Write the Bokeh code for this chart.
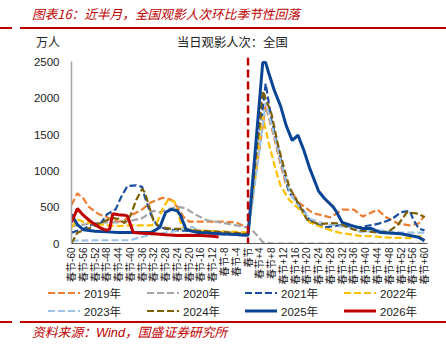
from bokeh.plotting import figure
from bokeh.models import Range1d, FixedTicker, Span, Div
from bokeh.layouts import column
from bokeh.embed import file_html
from bokeh.resources import INLINE

# ---------------- data (days relative to Spring Festival, 万人) ----------------
d19 = [-60, -58, -56, -54, -51, -47, -44, -42, -40, -36, -33, -29, -26, -24, -22, -20, -16, -12, -8, -4, -2, 0,
       6, 9, 11, 13, 16, 17, 22, 28, 32, 36, 39, 44, 47, 51, 55, 58, 60]
v19 = [530, 690, 620, 500, 410, 345, 300, 320, 380, 470, 565, 630, 600, 500, 370, 300, 300, 300, 300, 290, 250, 210,
       1900, 1440, 1100, 800, 640, 570, 420, 360, 465, 465, 370, 465, 360, 275, 250, 275, 385]

d20 = [-60, -56, -52, -48, -44, -40, -36, -32, -30, -28, -24, -21, -18, -14, -8, -4, 0, 2, 5, 8, 60]
v20 = [240, 260, 280, 290, 290, 310, 350, 450, 430, 460, 510, 480, 400, 320, 280, 250, 220, 160, 20, 0, 0]

d21 = [-60, -56, -53, -50, -48, -45, -43, -41, -38, -36, -35, -33, -31, -28, -24, -20, -16, -12, -8, -4, 0,
       6, 8, 10, 12, 14, 16, 18, 21, 26, 31, 37, 43, 46, 49, 52, 55, 56, 58, 60]
v21 = [150, 200, 260, 280, 400, 470, 650, 790, 800, 780, 630, 400, 250, 200, 180, 175, 170, 165, 160, 150, 140,
       2200, 1700, 1350, 1000, 700, 600, 500, 320, 220, 250, 220, 260, 290, 340, 430, 450, 345, 205, 180]

d22 = [-60, -58, -56, -52, -48, -44, -40, -36, -33, -31, -29, -27, -25, -24, -23, -22, -18, -12, -8, -4, 0,
       5, 7, 9, 11, 14, 18, 21, 26, 31, 38, 42, 48, 55, 58, 60]
v22 = [220, 330, 300, 270, 250, 240, 250, 250, 250, 280, 480, 610, 580, 450, 300, 210, 180, 170, 160, 160, 150,
       1750, 1390, 1075, 800, 600, 450, 290, 210, 150, 105, 100, 80, 75, 95, 100]

d23 = [-60, -56, -52, -48, -44, -40, -38, -34, -30, -26, -22, -19, -16, -12, -8, -4, 0,
       6, 9, 11, 13, 15, 18, 21, 26, 31, 35, 38, 45, 52, 60]
v23 = [40, 40, 45, 45, 45, 45, 70, 110, 140, 160, 200, 230, 150, 130, 120, 115, 110,
       1940, 1480, 1150, 850, 650, 470, 340, 270, 240, 220, 160, 180, 150, 150]

d24 = [-60, -58, -54, -50, -46, -44, -42, -40, -38, -36, -35, -34, -32, -30, -26, -22, -18, -14, -10, -6, -2, 0,
       5, 8, 10, 12, 14, 17, 20, 24, 28, 31, 36, 40, 44, 48, 51, 54, 58, 60]
v24 = [0, 150, 210, 290, 350, 340, 280, 380, 600, 750, 700, 560, 300, 230, 200, 200, 180, 170, 160, 150, 140, 130,
       2100, 1780, 1390, 1075, 780, 560, 330, 265, 280, 275, 190, 170, 150, 170, 260, 430, 410, 360]

d25 = [-60, -58, -56, -52, -48, -44, -40, -36, -33, -30, -28, -26, -24, -23, -21, -17, -12, -8, -4, -1, 0,
       5, 6, 7, 9, 11, 13, 15, 17, 19, 21, 24, 26, 29, 30, 32, 35, 39, 42, 45, 52, 58, 60]
v25 = [400, 260, 190, 170, 160, 150, 150, 150, 150, 220, 430, 470, 450, 390, 190, 150, 140, 130, 125, 115, 115,
       2490, 2490, 2350, 2100, 1900, 1620, 1420, 1490, 1280, 1030, 720, 620, 500, 440, 290, 250, 205, 205, 150, 135, 85, 40]

d26 = [-60, -58, -56, -54, -52, -50, -48, -47, -46, -44, -42, -41, -39, -36, -32, -28, -24, -20, -16, -12, -10]
v26 = [290, 480, 390, 320, 260, 210, 180, 200, 410, 395, 390, 380, 150, 140, 135, 120, 110, 115, 110, 100, 90]

years = ["2019年", "2020年", "2021年", "2022年", "2023年", "2024年", "2025年", "2026年"]
y_ticks = [0, 500, 1000, 1500, 2000, 2500]
x_ticks = [-60, -56, -52, -48, -44, -40, -36, -32, -28, -24, -20, -16, -12, -8, -4, 0,
           4, 8, 12, 16, 20, 24, 28, 32, 36, 40, 44, 48, 52, 56, 60]
x_tick_labels = ["春节-60", "春节-56", "春节-52", "春节-48", "春节-44", "春节-40", "春节-36", "春节-32",
                 "春节-28", "春节-24", "春节-20", "春节-16", "春节-12", "春节-8", "春节-4", "春节",
                 "春节+4", "春节+8", "春节+12", "春节+16", "春节+20", "春节+24", "春节+28", "春节+32",
                 "春节+36", "春节+40", "春节+44", "春节+48", "春节+52", "春节+56", "春节+60"]

title_text = "图表16：近半月，全国观影人次环比季节性回落"
unit_text = "万人"
subtitle_text = "当日观影人次：全国"
source_text = "资料来源：Wind，国盛证券研究所"

# ---------------- styling ----------------
RED = "#C00000"
LAT = "Liberation Sans, Noto Sans CJK SC"

styles = [
    ("#ED7D31", "7 3", 2.2),
    ("#A5A5A5", "7 3", 2.2),
    ("#1A4FA0", "7 3", 2.2),
    ("#FFC000", "7 3", 2.2),
    ("#9DC3E6", "7 3", 2.2),
    ("#7F6000", "7 3", 2.2),
    ("#0A4595", "solid", 3.0),
    ("#C00000", "solid", 3.0),
]
data = [(d19, v19), (d20, v20), (d21, v21), (d22, v22), (d23, v23), (d24, v24), (d25, v25), (d26, v26)]

# main chart: page y 50..288, frame ~57..243, x 71..427
p = figure(width=446, height=238, x_range=Range1d(-60, 61), y_range=Range1d(0, 2560),
           output_backend="svg", toolbar_location=None,
           min_border_left=71, min_border_right=19, min_border_top=7, min_border_bottom=45)
p.outline_line_color = None
p.xgrid.visible = False
p.ygrid.visible = False

for (xs, ys), (col, dash, lw) in zip(data, styles):
    p.line(xs, ys, line_color=col, line_width=lw, line_dash=dash)

p.add_layout(Span(location=0, dimension="height", line_color=RED, line_width=2.5, line_dash="8 4"))

ya = p.yaxis[0]
ya.ticker = FixedTicker(ticks=y_ticks)
ya.bounds = (0, 2500)
ya.axis_line_color = "#A6A6A6"
ya.axis_line_width = 1.5
ya.major_tick_line_color = None
ya.minor_tick_line_color = None
ya.major_tick_out = 0
ya.major_tick_in = 0
ya.major_label_standoff = 12
ya.major_label_text_font = LAT
ya.major_label_text_font_size = "11.5px"
ya.major_label_text_color = "#222222"

xa = p.xaxis[0]
xa.ticker = FixedTicker(ticks=x_ticks)
xa.major_label_overrides = {t: s for t, s in zip(x_ticks, x_tick_labels)}
xa.major_label_orientation = 1.5707963
xa.axis_line_color = "#595959"
xa.axis_line_width = 1
xa.major_tick_line_color = None
xa.minor_tick_line_color = None
xa.major_tick_out = 0
xa.major_tick_in = 0
xa.major_label_standoff = 4
xa.major_label_text_font = LAT
xa.major_label_text_font_size = "10px"
xa.major_label_text_color = "#222222"

# legend strip (page y 288..320): 2 rows x 4 columns
legend_parts = ['<svg width="446" height="32" xmlns="http://www.w3.org/2000/svg" style="display:block">']
col_x = [48, 147, 245, 344]
row_y = [5, 23]
for i, (name, (c, dash, lw)) in enumerate(zip(years, styles)):
    gx = col_x[i % 4]
    gy = row_y[i // 4]
    da = '' if dash == "solid" else ' stroke-dasharray="%s"' % dash
    legend_parts.append('<line x1="%d" y1="%d" x2="%d" y2="%d" stroke="%s" stroke-width="%s"%s/>'
                        % (gx, gy, gx + 32, gy, c, lw, da))
    legend_parts.append('<text x="%d" y="%s" dominant-baseline="central" '
                        'style="font-family:\'Liberation Sans\',\'Noto Sans CJK SC\';font-size:11.5px;fill:#222222">%s</text>'
                        % (gx + 36, gy + 0.5, name))
legend_parts.append('</svg>')
legend_div = Div(width=446, height=32, margin=0, text="".join(legend_parts))

title_div = Div(width=446, height=50, margin=0, text=(
    '<div style="position:relative;width:446px;height:50px;overflow:hidden;">'
    '<div style="position:absolute;left:32px;top:5px;line-height:18px;white-space:nowrap;'
    "font-family:'Noto Sans CJK SC';font-style:italic;font-size:12.7px;color:#C00000;\">"
    + title_text + '</div>'
    '<div style="position:absolute;left:0px;top:27px;width:12px;height:2px;background:#C00000;"></div>'
    '<div style="position:absolute;left:20px;top:27px;width:426px;height:2px;background:#C00000;"></div>'
    '<div style="position:absolute;left:36px;top:34px;line-height:16px;white-space:nowrap;'
    "font-family:'Noto Sans CJK SC';font-size:12px;color:#222222;\">" + unit_text + '</div>'
    '<div style="position:absolute;left:177px;top:34px;line-height:16px;white-space:nowrap;'
    "font-family:'Noto Sans CJK SC';font-size:12.3px;color:#222222;\">" + subtitle_text + '</div>'
    '</div>'))

source_div = Div(width=446, height=33, margin=0, text=(
    '<div style="position:relative;width:446px;height:33px;overflow:hidden;">'
    '<div style="position:absolute;left:0px;top:1px;width:12px;height:2px;background:#C00000;"></div>'
    '<div style="position:absolute;left:20px;top:1px;width:426px;height:2px;background:#C00000;"></div>'
    '<div style="position:absolute;left:32px;top:4px;line-height:18px;white-space:nowrap;'
    "font-family:'Liberation Sans','Noto Sans CJK SC';font-style:italic;font-size:12.8px;color:#C00000;\">"
    + source_text + '</div>'
    '</div>'))

layout = column(title_div, p, legend_div, source_div, spacing=0)
open("out.html", "w").write(file_html(layout, INLINE))
